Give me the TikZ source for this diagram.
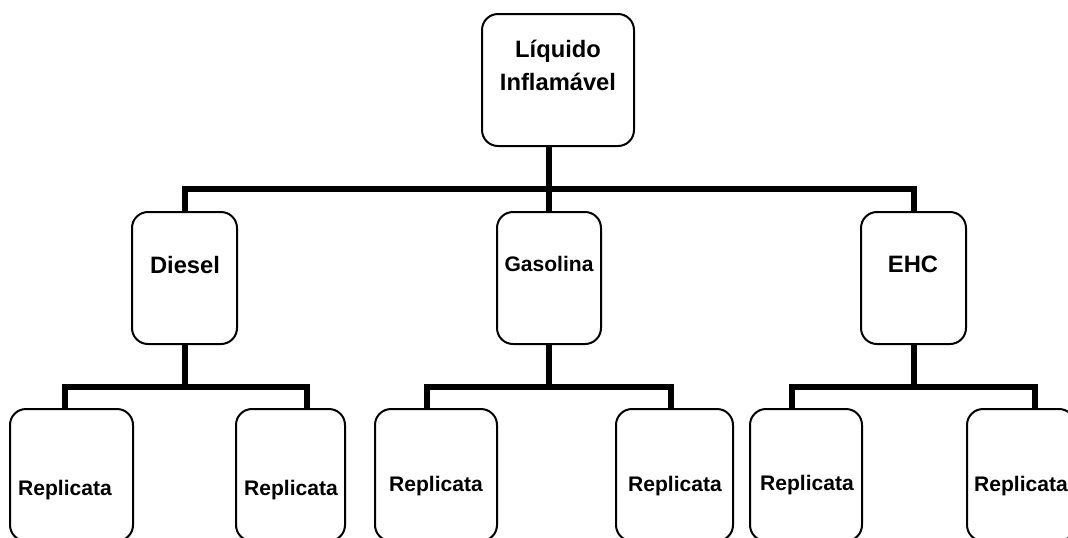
\documentclass[tikz,border=0pt]{standalone}
\usepackage{fontspec}
\setmainfont{Liberation Sans}
\begin{document}
\begin{tikzpicture}[x=0.75pt,y=-0.75pt,
  box/.style={draw,line width=1.5pt,rounded corners=12pt,inner sep=0pt,fill=white,minimum height=99pt},
  conn/.style={line width=4.5pt,line join=miter,line cap=butt},
  bigtxt/.style={font=\fontsize{17.8pt}{24.75pt}\selectfont\bfseries,inner sep=0pt,anchor=base,align=center},
  smalltxt/.style={font=\fontsize{15.8pt}{19pt}\selectfont\bfseries,inner sep=0pt,anchor=base}]
\clip (0,0) rectangle (1068,537);
% boxes
\node[box,minimum width=114pt] (root) at (558,80) {};
\node[box,minimum width=78.75pt] (diesel) at (184.5,278) {};
\node[box,minimum width=78pt] (gas) at (549,278) {};
\node[box,minimum width=78.75pt] (ehc) at (913.5,278) {};
\node[box,minimum width=92.25pt] (rep1) at (71.5,475) {};
\node[box,minimum width=81.75pt] (rep2) at (290.5,475) {};
\node[box,minimum width=91.5pt] (rep3) at (436,475) {};
\node[box,minimum width=87.75pt] (rep4) at (674.5,475) {};
\node[box,minimum width=84pt] (rep5) at (806,475) {};
\node[box,minimum width=81pt] (rep6) at (1021,475) {};
% texts
\node[bigtxt] (roott) at (558,90) {Líquido\\Inflamável};
\node[bigtxt] (dieselt) at (185,273) {Diesel};
\node[smalltxt] (gast) at (549,271) {Gasolina};
\node[bigtxt] (ehct) at (913,272) {EHC};
\node[smalltxt] (rep1t) at (65,495) {Replicata};
\node[smalltxt] (rep2t) at (291,495) {Replicata};
\node[smalltxt] (rep3t) at (436,491) {Replicata};
\node[smalltxt] (rep4t) at (675,491) {Replicata};
\node[smalltxt] (rep5t) at (807,490) {Replicata};
\node[smalltxt] (rep6t) at (1021,491) {Replicata};
% bar coordinates
\coordinate (b0) at (549,189);
\coordinate (dL) at (65,387);
\coordinate (dR) at (307,387);
\coordinate (gL) at (427,387);
\coordinate (gR) at (671,387);
\coordinate (eL) at (792,387);
\coordinate (eR) at (1035,387);
% connectors
\draw[conn] (diesel.north) |- (b0) -| (ehc.north);
\draw[conn] (root.south -| gas.north) -- (gas.north);
\draw[conn] (diesel.south) -- (diesel.south |- dL);
\draw[conn] (rep1.north -| dL) -- (dL) -- (dR) -- (rep2.north -| dR);
\draw[conn] (gas.south) -- (gas.south |- gL);
\draw[conn] (rep3.north -| gL) -- (gL) -- (gR) -- (rep4.north -| gR);
\draw[conn] (ehc.south) -- (ehc.south |- eL);
\draw[conn] (rep5.north -| eL) -- (eL) -- (eR) -- (rep6.north -| eR);
\end{tikzpicture}
\end{document}
